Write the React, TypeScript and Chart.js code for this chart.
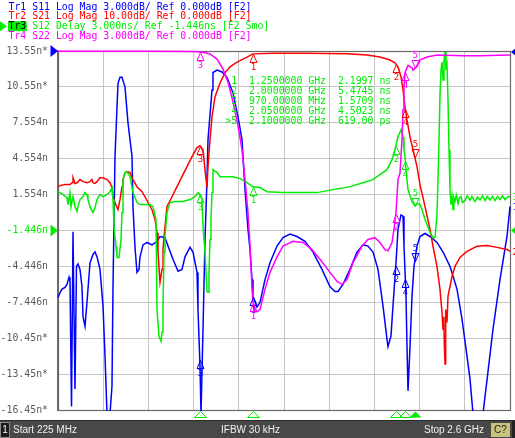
import React, { useEffect, useRef } from "react";
import { Chart, registerables } from "chart.js";

Chart.register(...registerables);

// ---------- stimulus / axis ----------
const START_MHZ = 225;
const STOP_MHZ = 2600;
const X_DIVISIONS = 10;

const yTickValues = [13.554, 10.554, 7.554, 4.554, 1.554, -1.446, -4.446, -7.446, -10.446, -13.446, -16.446];
const yTickLabels = ["13.55n*", "10.55n*", "7.554n", "4.554n", "1.554n", "-1.446n", "-4.446n", "-7.446n", "-10.45n*", "-13.45n*", "-16.45n*"];
const ACTIVE_TICK_INDEX = 5;

const headerLines = [
  "Tr1 S11 Log Mag 3.000dB/ Ref 0.000dB [F2]",
  "Tr2 S21 Log Mag 10.00dB/ Ref 0.000dB [F2]",
  "Tr3 S12 Delay 3.000ns/ Ref -1.446ns [F2 Smo]",
  "Tr4 S22 Log Mag 3.000dB/ Ref 0.000dB [F2]",
];

const markerNumbers = [1, 2, 3, 4, 5];
const markerFreqMHz = [1250, 2000, 970, 2050, 2100];
const markerReadoutNs = [2.1997, 5.4745, 1.5709, 4.5023, 0.619];
const ACTIVE_MARKER = 5;

const footerTexts = ["Start 225 MHz", "IFBW 30 kHz", "Stop 2.6 GHz"];

// ---------- trace data: [frequency MHz, value] ----------
// Tr1 S11 Log Mag (dB)
const s11 = [
  [225, -20.6], [235.5, -20.2], [246, -19.9], [261.8, -19.75], [272.3, -19.5], [282.8, -18.9], [288, -19.25],
  [296, -29.7], [303.8, -15.1], [314.3, -28.25], [322.2, -18], [330, -17.8], [340.6, -18.25], [351, -19.7],
  [356.4, -22.2], [366.9, -23], [377.4, -21], [393.1, -17.7], [408.9, -17], [419.4, -16.8], [429.9, -17.2],
  [445.7, -18.25], [461.4, -21.3], [472, -25.5], [482.5, -30.3], [498.2, -30.3], [508.7, -28], [514, -19.7],
  [524.5, -8.8], [535, -4.7], [540.3, -2.7], [550.8, -2.2], [561.3, -2.2], [577, -3], [592.8, -6], [613.8, -8.8],
  [619, -13], [629.6, -16.4], [640, -18.5], [650.6, -18.25], [655.9, -17.2], [671.6, -16.2], [692.6, -16],
  [719, -16.2], [745.2, -15.9], [761, -15.5], [787.2, -15.6], [803, -16.3], [829.3, -17.4], [855.5, -18.4],
  [876.5, -18.25], [892.3, -17.2], [918.6, -16.4], [934.3, -16.8], [955.4, -18.5], [960.6, -21.6], [971.1, -26.3],
  [976.4, -30.3], [986.9, -23.25], [997.4, -15.75], [1007.9, -10.75], [1013.2, -7.4], [1034.2, -3.25],
  [1039.4, -1.8], [1060.5, -1.6], [1086.7, -1.75], [1113, -2.2], [1144.5, -3.5], [1170.8, -5.5], [1191.8, -7.4],
  [1207.6, -11.6], [1223.3, -14.9], [1233.8, -16.6], [1244.4, -19.1], [1249.6, -20.5], [1270.6, -21.4],
  [1286.4, -21], [1312.7, -19.1], [1339, -17.7], [1375.7, -16.3], [1407.2, -15.6], [1444, -15.3], [1480.8, -15.5],
  [1522.8, -15.9], [1564.9, -16.8], [1612.2, -18.25], [1654.2, -19.7], [1680.5, -20.1], [1696.2, -20.1],
  [1722.5, -19.5], [1759.3, -18.25], [1796.1, -16.8], [1827.6, -16.2], [1853.9, -16.3], [1880.1, -16.8],
  [1906.4, -18.25], [1932.7, -21.3], [1953.7, -24.1], [1959, -24.7], [1974.7, -23.8], [1985.2, -21.3],
  [2001, -17.7], [2011.5, -14.9], [2027.3, -13.7], [2037.8, -13.8], [2043, -16.3], [2053.6, -20.5],
  [2058.8, -24.7], [2064.1, -28.4], [2074.6, -24.7], [2085.1, -20.5], [2095.6, -18], [2111.3, -16.3],
  [2127.1, -15.5], [2153.4, -15.25], [2179.6, -15.5], [2216.4, -16], [2248, -16.8], [2284.7, -18],
  [2321.5, -19.9], [2347.8, -22.4], [2374, -25.5], [2389.8, -27.4], [2405.6, -30.3], [2431.8, -30.5],
  [2458.1, -30.3], [2484.4, -26.8], [2510.7, -23.25], [2547.4, -19.1], [2584.2, -15.5], [2600, -13],
];

// Tr2 S21 Log Mag (dB)
const s21 = [
  [225, -37.8], [235.5, -37.5], [261.8, -37.2], [288, -37.2], [298.6, -36.7], [303.8, -35.3], [314.3, -36.9],
  [324.8, -36.7], [340.6, -35.8], [356.4, -36.4], [377.4, -36.7], [393.1, -36.4], [403.6, -35.8], [408.9, -36.7],
  [419.4, -36.9], [429.9, -36.4], [445.7, -35.3], [461.4, -35.3], [482.5, -35.8], [498.2, -36.7], [508.7, -38.1],
  [514, -40.6], [524.5, -42.2], [535, -43.6], [540.3, -44.2], [550.8, -41.4], [561.3, -37.8], [566.5, -35.8],
  [577, -33.9], [587.6, -33.6], [603.3, -33.9], [619, -35.8], [640, -37.8], [666.4, -39.2], [682.1, -40.6],
  [697.9, -42.2], [718.9, -44.2], [734.7, -46.9], [745.2, -50.6], [750.4, -56.1], [761, -64.4], [771.5, -60.8],
  [776.7, -55.3], [782, -51.7], [797.7, -43.3], [824, -40.6], [850.3, -37.8], [876.5, -35], [902.8, -32.2],
  [929.1, -29.4], [955.4, -26.9], [971.1, -26.4], [986.9, -27.5], [997.4, -33.1], [1007.9, -38.1],
  [1013.2, -32.2], [1023.7, -24.7], [1034.2, -18.3], [1050, -12.8], [1076.2, -8.9], [1102.5, -6.1],
  [1128.8, -4.4], [1165.5, -3.1], [1218.1, -1.7], [1249.6, -0.8], [1354.7, -0.6], [1533.3, -0.6],
  [1743.5, -0.8], [1848.6, -1.1], [1916.9, -1.7], [1969.4, -2.5], [1995.7, -3.3], [2011.5, -4.4],
  [2027.3, -7.2], [2037.8, -10.8], [2048.3, -15.6], [2058.8, -19.2], [2074.6, -23.9], [2090.4, -27.5],
  [2111.3, -32.2], [2127.1, -37.2], [2153.4, -43.3], [2179.6, -49.7], [2195.4, -54.4], [2216.4, -60],
  [2232.2, -66.4], [2242.7, -72.8], [2248, -77.5], [2252, -74], [2255, -82], [2258.5, -87.2], [2262, -72],
  [2269, -75.6], [2274.3, -68.3], [2295.3, -62.8], [2311, -60], [2337.3, -57.5], [2374, -55.8],
  [2426.6, -54.4], [2479.1, -54.2], [2531.7, -54.7], [2584.2, -55.3], [2600, -55.8],
];

// Tr3 S12 Delay (ns)
const s12Delay = [
  [225, 1.8], [235.5, 1.72], [251.3, 1.55], [272.3, 1.3], [277.5, 0.72], [288, 1.72], [293.3, 0.55],
  [303.8, 1.39], [314.3, 0.55], [324.8, 0.14], [330.1, 0.55], [340.6, 1.14], [356.4, 1.39], [366.9, 1.72],
  [377.4, 1.55], [382.6, 1.14], [393.1, 0.55], [408.9, 0.05], [419.4, 0.47], [429.9, 1.14], [445.7, 1.55],
  [461.4, 1.39], [482.5, 1.55], [498.2, 1.8], [508.7, 2.14], [514, 1.14], [519.2, -1.11], [529.8, -2.78],
  [535, -3.7], [545.5, -3.7], [556, -2.2], [561.3, 0.05], [566.5, 2.8], [577, 3.39], [587.6, 3.47],
  [603.3, 3.05], [619, 1.72], [640, 0.89], [655.9, 0.72], [682.1, 0.72], [708.4, 0.72], [724.2, 0.55],
  [739.9, -0.53], [745.2, -8.03], [755.7, -10.28], [766.2, -10.7], [771.5, -9.95], [776.7, -7.78],
  [782, -3.28], [787.2, -1.95], [797.7, 0.05], [813.5, 0.89], [839.8, 0.97], [881.8, 0.97], [918.6, 1.14],
  [944.9, 1.39], [960.6, 1.72], [971.1, 1.55], [981.6, 1.14], [986.9, -1.11], [997.4, -3.28], [1007.9, -6.53],
  [1013.2, -6.61], [1018.4, -4.95], [1023.7, -2.2], [1028.9, -0.53], [1034.2, 1.72], [1039.4, 3.64],
  [1060.5, 3.39], [1076.2, 3.05], [1113, 3.05], [1144.5, 3.05], [1181.3, 2.89], [1218.1, 2.55], [1249.6, 2.2],
  [1286.4, 2.14], [1323.2, 1.8], [1407.2, 1.72], [1496.6, 1.72], [1585.9, 1.72], [1669.9, 1.97],
  [1759.3, 2.22], [1827.6, 2.55], [1880.1, 2.8], [1916.9, 3.22], [1953.7, 3.64], [1980, 4.47], [1995.7, 5.3],
  [2011.5, 6.39], [2027.3, 6.97], [2037.8, 6.39], [2043, 5.3], [2048.3, 4.75], [2053.6, 3.64], [2064.1, 1.97],
  [2085.1, 0.97], [2100, 0.62], [2111.3, 0.8], [2127.1, 0.72], [2137.6, 0.3], [2153.4, -0.53], [2163.9, -0.95],
  [2179.6, -1.61], [2195.4, -2.03], [2206, -2.03], [2216.4, -0.11], [2221.7, 2.8], [2227, 6.14], [2232.2, 9.89],
  [2237.5, 11.97], [2242.7, 12.64], [2248, 11.14], [2253.2, 12.8], [2258.5, 13.47], [2263.7, 11.97],
  [2269, 12.39], [2274.3, 9.47], [2279.5, 5.3], [2284.7, 1.97], [2290, 0.72], [2295.3, 1.39], [2300.5, 0.3],
  [2305, 1.3], [2311, 1.0], [2318, 1.5], [2326.8, 0.8], [2334, 1.3], [2342.6, 1.39], [2350, 0.9],
  [2363.6, 1.05], [2375, 1.45], [2389.8, 1.1], [2400, 1.4], [2416.1, 0.97], [2430, 1.35], [2442.4, 1.1],
  [2455, 1.45], [2468.7, 1.05], [2480, 1.4], [2494.9, 1.1], [2508, 1.4], [2521.2, 1.05], [2535, 1.4],
  [2547.4, 1.15], [2560, 1.45], [2573.7, 1.14], [2588, 1.35], [2600, 1.39],
];

// Tr4 S22 Log Mag (dB)
const s22 = [
  [225, -0.02], [708.4, -0.02], [934.3, -0.05], [986.9, -0.1], [1023.7, -0.25], [1060.5, -0.67], [1092, -1.5],
  [1118.2, -2.6], [1144.5, -4.25], [1170.8, -6.25], [1191.8, -8.25], [1207.6, -10.75], [1223.3, -13.5],
  [1233.8, -16.2], [1244.4, -19.9], [1249.6, -21], [1260.2, -21.7], [1270.6, -21.8], [1286.4, -21.6],
  [1312.7, -19.9], [1339, -18.5], [1375.7, -17.2], [1407.2, -16.3], [1459.8, -15.9], [1512.3, -16],
  [1559.6, -16.6], [1601.7, -17.4], [1654.2, -18.5], [1691, -19.25], [1717.3, -19.5], [1743.5, -19.1],
  [1775, -17.7], [1822.3, -16.3], [1853.9, -15.75], [1890.6, -15.6], [1916.9, -16], [1943.2, -16.6],
  [1959, -16.7], [1980, -16], [1990.5, -14.9], [2001, -13.5], [2011.5, -10.75], [2022, -10.2], [2032.5, -7.4],
  [2037.8, -4.9], [2043, -3.1], [2048.3, -1.8], [2064.1, -1.2], [2085.1, -1.4], [2090.4, -1.6], [2111.3, -1.3],
  [2127.1, -0.75], [2163.9, -0.5], [2216.4, -0.33], [2353, -0.4], [2442.4, -0.4], [2600, -0.33],
];

// ---------- styling ----------
const BLUE = "#0000ff";
const RED = "#ff0000";
const GREEN = "#00ee00";
const MAGENTA = "#ff00ff";
const MONO = "'DejaVu Sans Mono', 'Liberation Mono', monospace";
const SANS = "'Liberation Sans', Arial, sans-serif";

const REF_TOP = 13.554; // axis value at top line (Ref 0 dB for Log Mag traces)
const AXIS_PER_DIV = 3;
const logMagToAxis = (db: number, dbPerDiv: number) => REF_TOP + db * (AXIS_PER_DIV / dbPerDiv);

type Trace = { name: string; pts: number[][]; color: string; toAxis: (v: number) => number; endLabel?: string };

const traces: Trace[] = [
  { name: "Tr1 S11", pts: s11, color: BLUE, toAxis: (v) => logMagToAxis(v, 3), endLabel: "1" },
  { name: "Tr2 S21", pts: s21, color: RED, toAxis: (v) => logMagToAxis(v, 10), endLabel: "2" },
  { name: "Tr3 S12", pts: s12Delay, color: GREEN, toAxis: (v) => v, endLabel: "3" },
  { name: "Tr4 S22", pts: s22, color: MAGENTA, toAxis: (v) => logMagToAxis(v, 3) },
];
const headerColors = [BLUE, RED, GREEN, MAGENTA];

function interp(pts: number[][], f: number): number {
  for (let i = 1; i < pts.length; i++) {
    if (pts[i][0] >= f) {
      const [f0, v0] = pts[i - 1];
      const [f1, v1] = pts[i];
      return v0 + ((v1 - v0) * (f - f0)) / (f1 - f0);
    }
  }
  return pts[pts.length - 1][1];
}

function fmtFreq(mhz: number) {
  return mhz >= 1000 ? (mhz / 1000).toFixed(7) + " GHz" : mhz.toFixed(5) + " MHz";
}
function fmtDelay(ns: number) {
  return ns >= 1 ? ns.toFixed(4) + " ns" : (ns * 1000).toFixed(2) + " ps";
}

function tri(ctx: CanvasRenderingContext2D, p: number[][], fill: boolean) {
  ctx.beginPath();
  ctx.moveTo(p[0][0], p[0][1]);
  ctx.lineTo(p[1][0], p[1][1]);
  ctx.lineTo(p[2][0], p[2][1]);
  ctx.closePath();
  if (fill) ctx.fill();
  else ctx.stroke();
}

const framePlugin = {
  id: "vnaFrame",
  beforeDraw(chart: any) {
    const ctx = chart.ctx;
    ctx.save();
    ctx.fillStyle = "#ffffff";
    ctx.fillRect(0, 0, chart.width, chart.height);
    ctx.restore();
  },
  beforeDatasetsDraw(chart: any) {
    const ctx = chart.ctx;
    const { left, right, top, bottom } = chart.chartArea;
    ctx.save();
    ctx.strokeStyle = "#6a6a6a";
    ctx.lineWidth = 1.2;
    ctx.strokeRect(Math.round(left) + 0.5, Math.round(top) + 0.5, Math.round(right - left), Math.round(bottom - top));
    ctx.restore();
  },
  afterDraw(chart: any) {
    const ctx: CanvasRenderingContext2D = chart.ctx;
    const { left, right, top, bottom } = chart.chartArea;
    const xs = chart.scales.x;
    const ys = chart.scales.y;
    ctx.save();

    // reference-position indicators
    const yRef1 = ys.getPixelForValue(REF_TOP);
    const yRef3 = ys.getPixelForValue(-1.446);
    ctx.fillStyle = BLUE;
    tri(ctx, [[left - 7.5, yRef1 - 6], [left, yRef1], [left - 7.5, yRef1 + 6]], true);
    tri(ctx, [[right + 1, yRef1 + 1], [right + 7, yRef1 - 4], [right + 7, yRef1 + 6]], true);
    ctx.fillStyle = GREEN;
    tri(ctx, [[left - 7.5, yRef3 - 6], [left, yRef3], [left - 7.5, yRef3 + 6]], true);
    tri(ctx, [[right + 1, yRef3], [right + 7, yRef3 - 5], [right + 7, yRef3 + 5]], true);

    // trace end labels on right
    ctx.font = `9px ${MONO}`;
    ctx.textBaseline = "middle";
    ctx.textAlign = "left";
    traces.forEach((tr) => {
      if (!tr.endLabel) return;
      const last = tr.pts[tr.pts.length - 1][1];
      let py = ys.getPixelForValue(tr.toAxis(last));
      py = Math.max(top, Math.min(bottom, py));
      ctx.fillStyle = tr.color;
      ctx.fillText(tr.endLabel, right + 2.5, py + 1);
    });

    // markers on traces
    ctx.lineWidth = 1;
    ctx.textAlign = "center";
    ctx.font = `9px ${MONO}`;
    traces.forEach((tr) => {
      ctx.strokeStyle = tr.color;
      ctx.fillStyle = tr.color;
      markerFreqMHz.forEach((f, i) => {
        const n = markerNumbers[i];
        const px = Math.round(xs.getPixelForValue(f)) + 0.5;
        let py = ys.getPixelForValue(tr.toAxis(interp(tr.pts, f)));
        py = Math.max(top, Math.min(bottom, py));
        py = Math.round(py) + 0.5;
        if (n === ACTIVE_MARKER) {
          tri(ctx, [[px, py], [px - 3.5, py - 8], [px + 3.5, py - 8]], false);
          ctx.fillText(String(n), px, py - 13);
        } else {
          tri(ctx, [[px, py], [px - 3.5, py + 8], [px + 3.5, py + 8]], false);
          ctx.fillText(String(n), px, py + 13);
        }
      });
    });

    // stimulus markers under the grid
    ctx.strokeStyle = GREEN;
    ctx.fillStyle = GREEN;
    markerFreqMHz.forEach((f, i) => {
      const px = Math.round(xs.getPixelForValue(f)) + 0.5;
      const y0 = Math.round(bottom) + 1.5;
      tri(ctx, [[px, y0], [px - 6, y0 + 6], [px + 6, y0 + 6]], markerNumbers[i] === ACTIVE_MARKER);
    });

    // header lines
    ctx.font = `9.85px ${MONO}`;
    ctx.textAlign = "left";
    ctx.textBaseline = "middle";
    const cw = ctx.measureText("M").width;
    const hx = 8.5;
    headerLines.forEach((line, i) => {
      const y = 6.5 + i * 9.85;
      if (i === 2) {
        ctx.fillStyle = GREEN;
        tri(ctx, [[0, y - 5], [7, y], [0, y + 5]], true);
        ctx.fillRect(hx - 0.5, y - 5, cw * 3 + 1, 10);
        ctx.fillStyle = "#000000";
        ctx.fillText(line.slice(0, 3), hx, y + 0.5);
        ctx.fillStyle = GREEN;
        ctx.fillText(line.slice(3), hx + cw * 3, y + 0.5);
      } else {
        ctx.fillStyle = headerColors[i];
        ctx.fillText(line, hx, y + 0.5);
      }
    });

    // marker table
    ctx.fillStyle = GREEN;
    markerNumbers.forEach((n, i) => {
      const row = (n === ACTIVE_MARKER ? ">" : " ") + n + "  " + fmtFreq(markerFreqMHz[i]) + "  " + fmtDelay(markerReadoutNs[i]);
      ctx.fillText(row, 225.3, 81 + i * 10);
    });

    // footer bar
    const fy = 421;
    ctx.fillStyle = "#2a2a2a";
    ctx.fillRect(0, fy - 1, chart.width, 1);
    ctx.fillStyle = "#484848";
    ctx.fillRect(0, fy, chart.width, chart.height - fy);
    ctx.fillStyle = "#1c1c1c";
    ctx.fillRect(0, fy + 1, 10, chart.height - fy - 1);
    ctx.strokeStyle = "#8a8a8a";
    ctx.lineWidth = 1;
    ctx.strokeRect(0.5, fy + 1.5, 9, chart.height - fy - 2);
    ctx.fillStyle = "#c9c47c";
    ctx.fillRect(491, fy + 2, 19, chart.height - fy - 3);
    ctx.fillStyle = "#222222";
    ctx.fillRect(512, fy, 3, chart.height - fy);

    ctx.font = `10px ${SANS}`;
    ctx.textBaseline = "middle";
    const ty = fy + 9;
    ctx.fillStyle = "#f2f2f2";
    ctx.textAlign = "center";
    ctx.fillText("1", 5, ty);
    ctx.textAlign = "left";
    ctx.fillText(footerTexts[0], 13, ty);
    ctx.textAlign = "center";
    ctx.fillText(footerTexts[1], 250.5, ty);
    ctx.textAlign = "right";
    ctx.fillText(footerTexts[2], 484, ty);
    ctx.textAlign = "center";
    ctx.fillStyle = "#202020";
    ctx.fillText("C?", 500.5, ty);

    ctx.restore();
  },
};

export default function App() {
  const ref = useRef<HTMLCanvasElement | null>(null);

  useEffect(() => {
    const canvas = ref.current;
    if (!canvas) return;
    const xGrid = Array.from({ length: X_DIVISIONS + 1 }, (_, i) => START_MHZ + ((STOP_MHZ - START_MHZ) * i) / X_DIVISIONS);

    const datasets = traces
      .slice()
      .reverse()
      .map((tr) => ({
        label: tr.name,
        data: tr.pts.map(([f, v]) => ({ x: f, y: tr.toAxis(v) })),
        borderColor: tr.color,
        backgroundColor: tr.color,
        borderWidth: 1.5,
        pointRadius: 0,
        tension: 0,
        fill: false,
        clip: { left: 1, right: 1, top: 2, bottom: 1 },
      }));

    const chart = new Chart(canvas, {
      type: "line",
      data: { datasets },
      plugins: [framePlugin],
      options: {
        animation: false,
        responsive: false,
        devicePixelRatio: 1,
        events: [],
        layout: { padding: { top: 51, right: 5, bottom: 0, left: 0 } },
        plugins: { legend: { display: false }, tooltip: { enabled: false }, title: { display: false } },
        scales: {
          x: {
            type: "linear",
            min: START_MHZ,
            max: STOP_MHZ,
            afterBuildTicks: (scale: any) => {
              scale.ticks = xGrid.map((v) => ({ value: v }));
            },
            afterFit: (scale: any) => {
              scale.height = 28;
              scale.paddingLeft = 0;
              scale.paddingRight = 0;
            },
            ticks: { display: false },
            grid: { color: "#c6c6c6", lineWidth: 1, drawTicks: false },
            border: { display: false },
          },
          y: {
            type: "linear",
            min: yTickValues[yTickValues.length - 1],
            max: yTickValues[0],
            afterBuildTicks: (scale: any) => {
              scale.ticks = yTickValues.map((v) => ({ value: v }));
            },
            afterFit: (scale: any) => {
              scale.width = 58;
              scale.paddingTop = 0;
              scale.paddingBottom = 0;
            },
            ticks: {
              autoSkip: false,
              padding: 10,
              font: { family: MONO, size: 9.85 },
              color: (c: any) => (c.index === ACTIVE_TICK_INDEX ? GREEN : "#5c5c5c"),
              callback: (_v: any, i: number) => yTickLabels[i],
            },
            grid: { color: "#c6c6c6", lineWidth: 1, drawTicks: false },
            border: { display: true, color: "#6a6a6a", width: 1.2 },
          },
        },
      } as any,
    });
    return () => chart.destroy();
  }, []);

  return (
    <div style={{ position: "absolute", left: 0, top: 0, width: 515, height: 438, background: "#fff" }}>
      <canvas ref={ref} width={515} height={438} style={{ display: "block", width: 515, height: 438 }} />
    </div>
  );
}
